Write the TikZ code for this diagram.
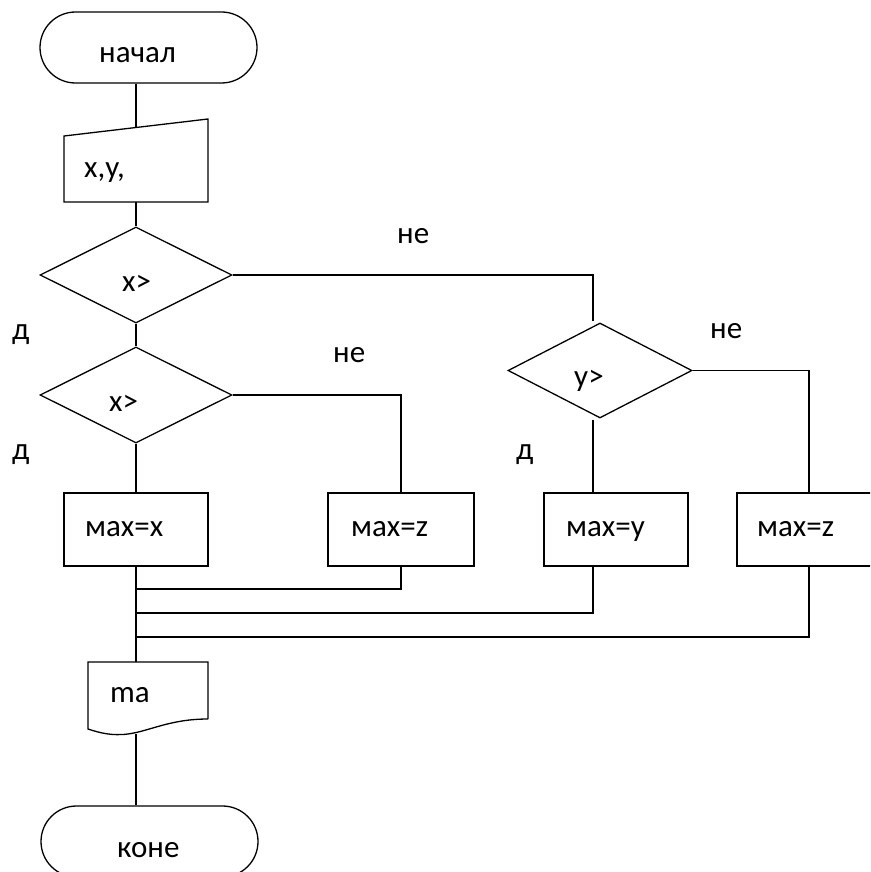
\documentclass[tikz,border=0pt]{standalone}
\usepackage{fontspec}
\setmainfont{Carlito}
\usetikzlibrary{shapes.geometric}
\tikzset{
  shapeline/.style={draw=black, line width=1.3pt},
  terminal/.style={shapeline, rectangle, rounded corners=35.5pt, minimum width=217pt, minimum height=71pt, inner sep=0pt},
  decision/.style={shapeline, diamond, minimum width=192pt, minimum height=96pt, inner sep=0pt},
  process/.style={shapeline, rectangle, minimum width=144pt, minimum height=73pt, inner sep=0pt},
  txt/.style={anchor=base west, inner sep=0pt, font=\fontsize{31}{36}\selectfont},
  conn/.style={draw=black, line width=1.3pt},
}
\begin{document}
\begin{tikzpicture}[x=1pt,y=-1pt]
\useasboundingbox (0,0) rectangle (870,872);
\clip (0,0) rectangle (870,872);
% shapes
\node[terminal] (start) at (148.5,47.5) {};
\draw[shapeline] (64,136) -- (208,119) -- (208,202) -- (64,202) -- cycle;
\coordinate (inptop) at (136,127.5);
\coordinate (inpbot) at (136,202);
\node[decision] (d1) at (136,275) {};
\node[decision] (d2) at (136,395) {};
\node[decision, minimum width=184pt, minimum height=95pt] (d3) at (600,370.5) {};
\node[process] (b1) at (136,529.5) {};
\node[process, minimum width=146pt] (b2) at (401,529.5) {};
\node[process] (b3) at (616,529.5) {};
\node[process] (b4) at (809,529.5) {};
\draw[shapeline] (208,719) -- (208,662) -- (88,662) -- (88,729)
  .. controls (100,733) and (112,736) .. (128,734)
  .. controls (150,731) and (170,719) .. (208,719);
\coordinate (doctop) at (136,662);
\coordinate (docbot) at (136,734);
\node[terminal] (end) at (149.5,841.5) {};
\coordinate (c3) at (593,0);
% texts
\node[txt] (t0) at (99,63) {начал};
\node[txt] (t1) at (84,177) {x,y,};
\node[txt] (t2) at (122,291) {x>};
\node[txt] (t3) at (109,411) {x>};
\node[txt] (t4) at (574,386) {y>};
\node[txt] (t5) at (397,243) {не};
\node[txt] (t6) at (333,362) {не};
\node[txt] (t7) at (710,338) {не};
\node[txt] (t8) at (12,339) {д};
\node[txt] (t9) at (12,459) {д};
\node[txt] (t10) at (516,459) {д};
\node[txt] (t11) at (85,536) {мах=х};
\node[txt] (t12) at (351,536) {мах=z};
\node[txt] (t13) at (566,536) {мах=у};
\node[txt] (t14) at (757,536) {мах=z};
\node[txt] (t15) at (110,702) {ma};
\node[txt] (t16) at (117,857) {коне};
% connectors
\draw[conn] (start.south -| inptop) -- (inptop);
\draw[conn] (inpbot) -- (d1.north);
\draw[conn] (d1.east) -| ([xshift=-7pt,yshift=1pt]d3.north);
\draw[conn] (d1.south) -- (d2.north);
\draw[conn] (d2.east) -| (b2.north);
\draw[conn] (d2.south) -- (b1.north);
\draw[conn] ([xshift=-7pt,yshift=-1pt]d3.south) -- (b3.north -| c3);
\draw[conn] (d3.east) -| (b4.north);
\draw[conn] (b1.south) -- (doctop);
\draw[conn] (b2.south) |- (b1.south |- 0,589);
\draw[conn] (b3.south -| c3) |- (b1.south |- 0,613);
\draw[conn] (b4.south) |- (b1.south |- 0,637);
\draw[conn] (docbot) -- (docbot |- end.north);
\end{tikzpicture}
\end{document}
